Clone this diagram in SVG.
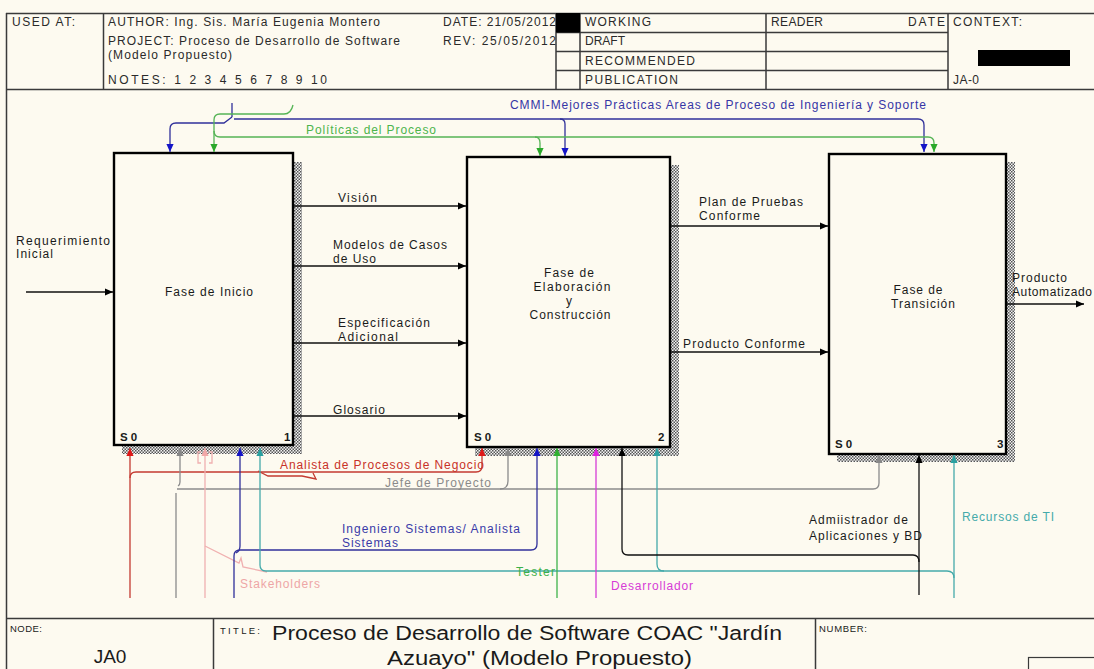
<svg xmlns="http://www.w3.org/2000/svg" width="1094" height="669" viewBox="0 0 1094 669">
<defs>
<style>
text{font-family:"Liberation Sans",Arial,Helvetica,sans-serif;font-size:12px;fill:#1a1a1a}
.hd{fill:#2a2a2a;font-size:12px}
.sm{font-size:9.5px}
.num{font-weight:bold;font-size:11.5px}
.ttl{font-size:20px}
.node{font-size:19px}
.frame{stroke:#3a3a3a;stroke-width:1.5;fill:none}
.box{fill:#fdfaf0;stroke:#000;stroke-width:2.4}
.sh{fill:url(#hatch)}
.c{fill:none;stroke-width:1.3}
.k{stroke:#111}
.bl{stroke:#30309a}
.gr{stroke:#55b455}
.rd{stroke:#c43a30}
.gy{stroke:#8c8c8c}
.pk{stroke:#f0b0b0}
.tl{stroke:#45aaaa}
.tg{stroke:#3fb34a}
.mg{stroke:#d63cd6}
</style>
<pattern id="hatch" width="3" height="3" patternUnits="userSpaceOnUse">
<rect width="3" height="3" fill="#f4f4f4"/>
<rect width="1.5" height="1.5" fill="#555"/>
<rect x="1.5" y="1.5" width="1.5" height="1.5" fill="#555"/>
</pattern>
<marker id="ak" viewBox="0 0 10 10" refX="10" refY="5" markerWidth="8" markerHeight="8" markerUnits="userSpaceOnUse" orient="auto"><path d="M0,0.5 L10,5 L0,9.5 z" fill="#000"/></marker>
<marker id="abl" viewBox="0 0 10 10" refX="10" refY="5" markerWidth="8" markerHeight="8" markerUnits="userSpaceOnUse" orient="auto"><path d="M0,0.5 L10,5 L0,9.5 z" fill="#1414c8"/></marker>
<marker id="agr" viewBox="0 0 10 10" refX="10" refY="5" markerWidth="8" markerHeight="8" markerUnits="userSpaceOnUse" orient="auto"><path d="M0,0.5 L10,5 L0,9.5 z" fill="#2aa82a"/></marker>
<marker id="ard" viewBox="0 0 10 10" refX="10" refY="5" markerWidth="8" markerHeight="8" markerUnits="userSpaceOnUse" orient="auto"><path d="M0,0.5 L10,5 L0,9.5 z" fill="#e01818"/></marker>
<marker id="agy" viewBox="0 0 10 10" refX="10" refY="5" markerWidth="8" markerHeight="8" markerUnits="userSpaceOnUse" orient="auto"><path d="M0,0.5 L10,5 L0,9.5 z" fill="#888"/></marker>
<marker id="apk" viewBox="0 0 10 10" refX="10" refY="5" markerWidth="8" markerHeight="8" markerUnits="userSpaceOnUse" orient="auto"><path d="M0,0.5 L10,5 L0,9.5 z" fill="#f2a8a8"/></marker>
<marker id="atl" viewBox="0 0 10 10" refX="10" refY="5" markerWidth="8" markerHeight="8" markerUnits="userSpaceOnUse" orient="auto"><path d="M0,0.5 L10,5 L0,9.5 z" fill="#2aa0a0"/></marker>
<marker id="atg" viewBox="0 0 10 10" refX="10" refY="5" markerWidth="8" markerHeight="8" markerUnits="userSpaceOnUse" orient="auto"><path d="M0,0.5 L10,5 L0,9.5 z" fill="#30b030"/></marker>
<marker id="amg" viewBox="0 0 10 10" refX="10" refY="5" markerWidth="8" markerHeight="8" markerUnits="userSpaceOnUse" orient="auto"><path d="M0,0.5 L10,5 L0,9.5 z" fill="#e020e0"/></marker>
</defs>

<rect x="0" y="0" width="1094" height="669" fill="#fdfaf0"/>

<g id="frame">
<path class="frame" d="M6,13.5 H1094 M6.5,13 V669 M6,89.5 H1094 M103.5,13 V89 M556,13 V89 M580,13 V89 M766,13 V89 M948,13 V89 M556,32.5 H948 M556,51.5 H948 M556,70.5 H948 M6,618.5 H1094 M213.5,618 V669 M815.5,618 V669"/>
<rect x="556" y="13" width="24" height="19.5" fill="#000"/>
<rect x="978" y="50" width="92" height="16" fill="#000"/>
<rect x="1028.5" y="657.5" width="80" height="20" fill="none" stroke="#3a3a3a" stroke-width="1.2"/>
<text class="hd" x="12" y="26" textLength="63">USED AT:</text>
<text class="hd" x="108" y="26" textLength="272">AUTHOR:  Ing. Sis. María Eugenia Montero</text>
<text class="hd" x="108" y="45" textLength="292">PROJECT:  Proceso de Desarrollo de Software</text>
<text class="hd" x="108" y="59" textLength="124">(Modelo Propuesto)</text>
<text class="hd" x="108" y="84" textLength="219">NOTES:  1  2  3  4  5  6  7  8  9  10</text>
<text class="hd" x="443" y="26" textLength="113">DATE: 21/05/2012</text>
<text class="hd" x="443" y="45" textLength="113">REV:   25/05/2012</text>
<text class="hd" x="585" y="26" textLength="66">WORKING</text>
<text class="hd" x="585" y="45" textLength="40">DRAFT</text>
<text class="hd" x="585" y="65" textLength="110">RECOMMENDED</text>
<text class="hd" x="585" y="84" textLength="93">PUBLICATION</text>
<text class="hd" x="771" y="26" textLength="52">READER</text>
<text class="hd" x="908" y="26" textLength="37">DATE</text>
<text class="hd" x="953" y="26" textLength="69">CONTEXT:</text>
<text class="hd" x="953" y="84" textLength="26">JA-0</text>
<text class="sm" x="10" y="632" textLength="32">NODE:</text>
<text class="node" x="110" y="663" text-anchor="middle">JA0</text>
<text class="sm" x="220" y="634" textLength="40">TITLE:</text>
<text class="ttl" x="272" y="640" textLength="510" lengthAdjust="spacingAndGlyphs">Proceso de Desarrollo de Software  COAC "Jardín</text>
<text class="ttl" x="387" y="665" textLength="305" lengthAdjust="spacingAndGlyphs">Azuayo" (Modelo Propuesto)</text>
<text class="sm" x="819" y="632" textLength="48">NUMBER:</text>
</g>

<g id="node1">
<rect class="sh" x="294" y="162" width="8" height="292"/>
<rect class="sh" x="122" y="446" width="180" height="8"/>
<rect class="box" x="114" y="153" width="179" height="292"/>
<text x="165" y="296" textLength="88">Fase de Inicio</text>
<text class="num" x="120" y="441">S 0</text>
<text class="num" x="284" y="441">1</text>
</g>

<g id="node2">
<rect class="sh" x="671" y="165" width="8" height="291"/>
<rect class="sh" x="475" y="448" width="204" height="8"/>
<rect class="box" x="467" y="157" width="203" height="290"/>
<text x="569" y="277" text-anchor="middle" textLength="50">Fase de</text>
<text x="572" y="291" text-anchor="middle" textLength="77">Elaboración</text>
<text x="569" y="305" text-anchor="middle">y</text>
<text x="570" y="319" text-anchor="middle" textLength="81">Construcción</text>
<text class="num" x="474" y="441">S 0</text>
<text class="num" x="658" y="441">2</text>
</g>

<g id="node3">
<rect class="sh" x="1007" y="162" width="8" height="300"/>
<rect class="sh" x="837" y="455" width="178" height="7"/>
<rect class="box" x="829" y="154" width="177" height="300"/>
<text x="918" y="294" text-anchor="middle" textLength="49">Fase de</text>
<text x="923" y="308" text-anchor="middle" textLength="64">Transición</text>
<text class="num" x="835" y="448">S 0</text>
<text class="num" x="997" y="448">3</text>
</g>

<g id="connectors">
<path class="c k" d="M26,292 H113" marker-end="url(#ak)"/>
<path class="c k" d="M294,206 H466" marker-end="url(#ak)"/>
<path class="c k" d="M294,266 H466" marker-end="url(#ak)"/>
<path class="c k" d="M294,343 H466" marker-end="url(#ak)"/>
<path class="c k" d="M294,416 H466" marker-end="url(#ak)"/>
<path class="c k" d="M671,226 H828" marker-end="url(#ak)"/>
<path class="c k" d="M671,352 H828" marker-end="url(#ak)"/>
<path class="c k" d="M1007,304 H1084" marker-end="url(#ak)"/>

<path class="c bl" d="M232,103 V117"/>
<path class="c bl" d="M232,117 L224,123 H176 Q170,123 170,129 V152" marker-end="url(#abl)"/>
<path class="c bl" d="M234,119 H918 Q924,119 924,125 V152" marker-end="url(#abl)"/>
<path class="c bl" d="M560,119 Q565,119 565,124 V156" marker-end="url(#abl)"/>
<path class="c gr" d="M293,105 Q291,114 284,114 H220 Q214,114 214,120 V152" marker-end="url(#agr)"/>
<path class="c gr" d="M214,131 Q214,137 220,137 H928 Q934,137 934,143 V152" marker-end="url(#agr)"/>
<path class="c gr" d="M535,137 Q540,137 540,143 V156" marker-end="url(#agr)"/>

<path class="c rd" d="M130,598 V448" marker-end="url(#ard)"/>
<path class="c rd" d="M130,478 Q130,472 136,472 H476 Q482,472 482,466 V448" marker-end="url(#ard)"/>
<path class="c rd" d="M258,471 L268,476 H302 L316,479 L313,473"/>
<path class="c gy" d="M176,598 V493 M178,486 Q180,485 180,482 V448" marker-end="url(#agy)"/>
<path class="c gy" d="M177,489 H873 Q879,489 879,483 V455" marker-end="url(#agy)"/>
<path class="c gy" d="M500,489 Q508,489 508,481 V448" marker-end="url(#agy)"/>
<path class="c pk" d="M205,598 V448" marker-end="url(#apk)"/>
<path class="c pk" d="M201,452 H198 V463 H201 M209,452 H212 V463 H209"/>
<path class="c pk" d="M205,546 L239,563 L241,558 L243,567 L267,572"/>
<path class="c bl" d="M234,598 V556 Q234,550 240,550 H531 Q537,550 537,544 V448" marker-end="url(#abl)"/>
<path class="c bl" d="M236,553 Q240,551 240,546 V448" marker-end="url(#abl)"/>
<path class="c tl" d="M954,598 V455" marker-end="url(#atl)"/>
<path class="c tl" d="M954,578 Q954,571 947,571 H266 Q260,571 260,565 V448" marker-end="url(#atl)"/>
<path class="c tl" d="M664,571 Q657,571 657,564 V448" marker-end="url(#atl)"/>
<path class="c tg" d="M557,598 V448" marker-end="url(#atg)"/>
<path class="c mg" d="M596,598 V448" marker-end="url(#amg)"/>
<path class="c k" d="M919,595 V455" marker-end="url(#ak)"/>
<path class="c k" d="M919,562 Q919,555 913,555 H628 Q622,555 622,549 V448" marker-end="url(#ak)"/>

<text x="510" y="109" style="fill:#3636a6" textLength="416">CMMI-Mejores Prácticas Areas de Proceso de Ingeniería y Soporte</text>
<text x="306" y="134" style="fill:#4cb44c" textLength="130">Políticas del Proceso</text>
<text x="338" y="202" textLength="39">Visión</text>
<text x="333" y="249" textLength="114">Modelos de Casos</text>
<text x="333" y="263" textLength="43">de Uso</text>
<text x="338" y="327" textLength="92">Especificación</text>
<text x="338" y="341" textLength="60">Adicional</text>
<text x="333" y="414" textLength="52">Glosario</text>
<text x="16" y="245" textLength="94">Requerimiento</text>
<text x="16" y="258" textLength="37">Inicial</text>
<text x="699" y="206" textLength="104">Plan de Pruebas</text>
<text x="699" y="220" textLength="61">Conforme</text>
<text x="683" y="348" textLength="122">Producto Conforme</text>
<text x="1012" y="282" textLength="55">Producto</text>
<text x="1012" y="296" textLength="80">Automatizado</text>
<text x="280" y="469" style="fill:#c83228" textLength="204">Analista de Procesos de Negocio</text>
<text x="385" y="487" style="fill:#8a8a8a" textLength="106">Jefe de Proyecto</text>
<text x="342" y="533" style="fill:#3a3aa8" textLength="178">Ingeniero Sistemas/ Analista</text>
<text x="342" y="547" style="fill:#3a3aa8" textLength="56">Sistemas</text>
<text x="240" y="588" style="fill:#eea6a6" textLength="80">Stakeholders</text>
<text x="516" y="576" style="fill:#3cb04a" textLength="39">Tester</text>
<text x="611" y="590" style="fill:#d63cd6" textLength="82">Desarrollador</text>
<text x="809" y="524" textLength="99">Admiistrador de</text>
<text x="809" y="540" textLength="113">Aplicaciones y BD</text>
<text x="962" y="521" style="fill:#45aaaa" textLength="92">Recursos de TI</text>
</g>
</svg>
